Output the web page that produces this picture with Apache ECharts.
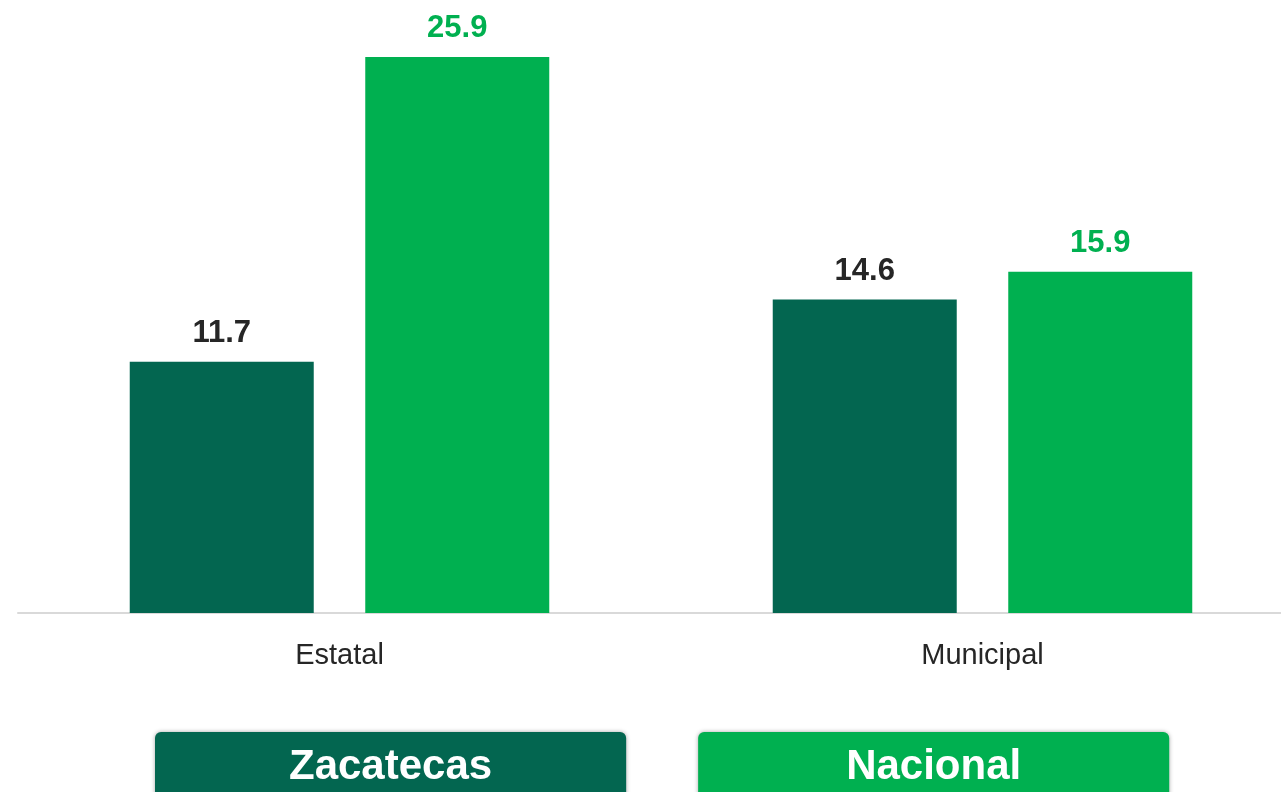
<!DOCTYPE html>
<html>
<head>
<meta charset="utf-8">
<script src="https://cdn.jsdelivr.net/npm/echarts@6/dist/echarts.min.js"></script>
<style>
  html, body { margin: 0; padding: 0; background: #fff; overflow: hidden; }
  #bar { width: 1304px; height: 792px; }
</style>
</head>
<body>
<div id="bar"></div>
<script>
var categories = ['Estatal', 'Municipal'];
var zacatecas = [11.7, 14.6];
var nacional = [25.9, 15.9];
var seriesNames = ['Zacatecas', 'Nacional'];
var colors = ['#036650', '#00b050'];
var labelColors = ['#262626', '#00b050'];
var legendPad = [134, 148];

var font = "'Liberation Sans', Arial, sans-serif";

function legendItem(i) {
    return {
        name: seriesNames[i],
        textStyle: {
            backgroundColor: colors[i],
            color: '#fff',
            height: 70,
            lineHeight: 70,
            padding: [0, legendPad[i]],
            borderRadius: 6,
            fontSize: 42,
            fontWeight: 'bold',
            fontFamily: font,
            shadowColor: 'rgba(0,0,0,0.35)',
            shadowBlur: 4
        }
    };
}

function barLabel(i) {
    return {
        show: true, position: 'top', distance: 13,
        color: labelColors[i], fontSize: 31, fontWeight: 'bold', fontFamily: font
    };
}

//柱状图
var bar = echarts.init(document.getElementById('bar'));
bar.setOption({
    animation: false,
    color: colors,
    grid: {left: 18, right: 0, top: 12, bottom: 179, containLabel: false},
    legend: {
        left: 150,
        top: 732,
        padding: 0,
        icon: 'rect',
        itemWidth: 0,
        itemHeight: 0,
        itemGap: 67,
        selectedMode: false,
        data: [legendItem(0), legendItem(1)]
    },
    xAxis: {
        type: 'category',
        data: categories,
        axisTick: {show: false},
        axisLine: {lineStyle: {color: '#d9d9d9', width: 2}},
        axisLabel: {
            margin: 28,
            color: '#262626',
            fontSize: 29,
            fontFamily: font
        }
    },
    yAxis: {
        type: 'value',
        min: 0,
        max: 28,
        show: false,
        splitLine: {show: false}
    },
    series: [
        {
            name: seriesNames[0],
            type: 'bar',
            data: zacatecas,
            barWidth: 184,
            barGap: '28%',
            label: barLabel(0)
        },
        {
            name: seriesNames[1],
            type: 'bar',
            data: nacional,
            barWidth: 184,
            barGap: '28%',
            label: barLabel(1)
        }
    ]
});
</script>
</body>
</html>
